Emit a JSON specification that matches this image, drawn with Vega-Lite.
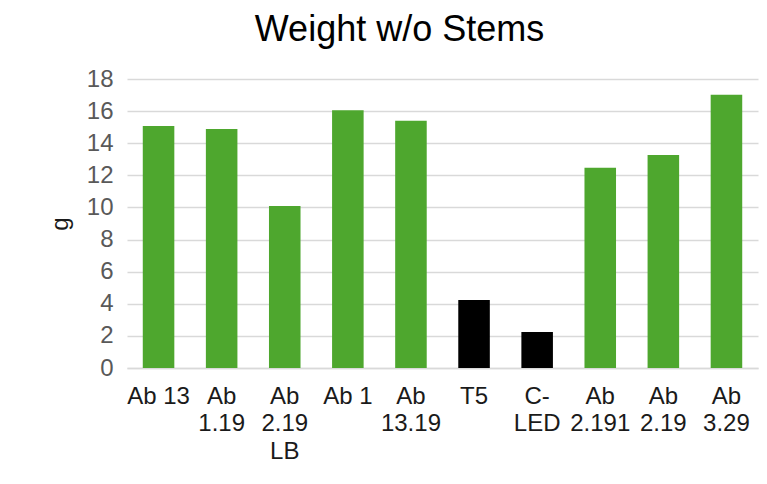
{
  "$schema": "https://vega.github.io/schema/vega-lite/v6.json",
  "width": 631,
  "height": 289,
  "autosize": {"type": "none"},
  "padding": {"left": 127, "top": 79, "right": 9, "bottom": 116},
  "background": "white",
  "config": {"view": {"stroke": null}, "font": "Liberation Sans"},
  "title": {
    "text": "Weight w/o Stems",
    "font": "Liberation Sans",
    "fontSize": 36,
    "fontWeight": "normal",
    "color": "#000000",
    "anchor": "middle",
    "dx": -43,
    "offset": 18
  },
  "data": {
    "values": [
      {"sample": "Ab 13", "weight": 15.07, "group": "Ab"},
      {"sample": "Ab 1.19", "weight": 14.88, "group": "Ab"},
      {"sample": "Ab 2.19 LB", "weight": 10.09, "group": "Ab"},
      {"sample": "Ab 1", "weight": 16.06, "group": "Ab"},
      {"sample": "Ab 13.19", "weight": 15.4, "group": "Ab"},
      {"sample": "T5", "weight": 4.23, "group": "Control"},
      {"sample": "C-LED", "weight": 2.24, "group": "Control"},
      {"sample": "Ab 2.191", "weight": 12.47, "group": "Ab"},
      {"sample": "Ab 2.19", "weight": 13.27, "group": "Ab"},
      {"sample": "Ab 3.29", "weight": 17.02, "group": "Ab"}
    ]
  },
  "mark": {"type": "bar"},
  "encoding": {
    "x": {
      "field": "sample",
      "type": "nominal",
      "sort": null,
      "scale": {"paddingInner": 0.5, "paddingOuter": 0.25},
      "axis": {
        "title": null,
        "labelAngle": 0,
        "labelFontSize": 24,
        "labelFont": "Liberation Sans",
        "labelColor": "#1a1a1a",
        "labelPadding": 16,
        "labelLineHeight": 27.5,
        "labelExpr": "datum.label == 'Ab 13' || datum.label == 'Ab 1' || datum.label == 'T5' ? datum.label : datum.label == 'C-LED' ? ['C-', 'LED'] : split(datum.label, ' ')",
        "ticks": false,
        "domainColor": "#D9D9D9",
        "domainWidth": 1.5,
        "grid": false
      }
    },
    "y": {
      "field": "weight",
      "type": "quantitative",
      "scale": {"domain": [0, 18], "nice": false},
      "axis": {
        "title": "g",
        "titleFontSize": 24,
        "titleFont": "Liberation Sans",
        "titleFontWeight": "normal",
        "titleColor": "#1a1a1a",
        "titlePadding": 14,
        "values": [0, 2, 4, 6, 8, 10, 12, 14, 16, 18],
        "labelFontSize": 24,
        "labelFont": "Liberation Sans",
        "labelColor": "#595959",
        "labelPadding": 14,
        "ticks": false,
        "domain": false,
        "grid": true,
        "gridColor": "#D9D9D9",
        "gridWidth": 1.5
      }
    },
    "color": {
      "field": "group",
      "type": "nominal",
      "scale": {"domain": ["Ab", "Control"], "range": ["#4EA72E", "#000000"]},
      "legend": null
    }
  }
}
